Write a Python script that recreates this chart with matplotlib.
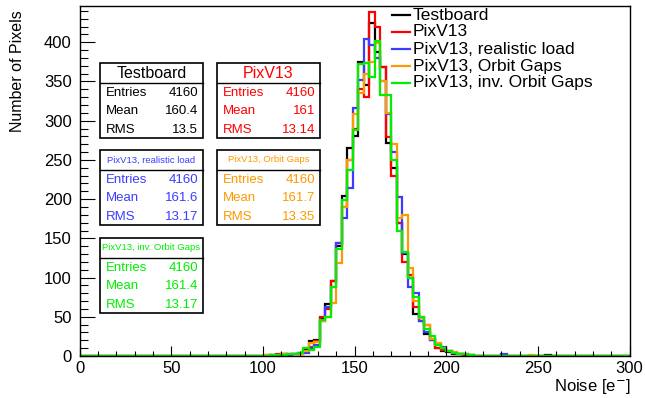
import numpy as np
import matplotlib
matplotlib.use("Agg")
import matplotlib.pyplot as plt
from matplotlib.patches import Rectangle
from matplotlib.lines import Line2D

plt.rcParams['font.family'] = ['Liberation Sans', 'DejaVu Sans']

# ---------------- data ----------------
bin_width = 3
bin_lefts = [98, 101, 104, 107, 110, 113, 116, 119, 122, 125, 128, 131, 134, 137,
             140, 143, 146, 149, 152, 155, 158, 161, 164, 167, 170, 173, 176, 179,
             182, 185, 188, 191, 194, 197, 200, 203, 206, 209, 212, 215]

testboard = [0, 0, 1, 0, 2, 1, 3, 4, 8, 19, 20, 48, 66, 95,
             140, 204, 265, 280, 375, 346, 425, 387, 368, 271, 240, 169, 130, 100,
             54, 45, 28, 20, 10, 7, 5, 3, 2, 1, 1, 0]
pixv13 = [0, 1, 0, 2, 1, 2, 3, 2, 5, 12, 19, 50, 60, 96,
          144, 190, 250, 290, 340, 330, 439, 420, 368, 279, 230, 170, 120, 103,
          62, 50, 40, 22, 10, 8, 6, 4, 2, 1, 0, 0]
realistic = [0, 0, 1, 1, 2, 1, 2, 3, 4, 10, 14, 45, 62, 88,
             144, 176, 214, 316, 352, 404, 396, 380, 350, 308, 260, 203, 131, 88,
             80, 45, 30, 20, 15, 12, 6, 4, 3, 2, 1, 0]
orbit = [0, 1, 0, 1, 2, 2, 3, 3, 6, 17, 18, 45, 50, 67,
         118, 190, 250, 308, 335, 360, 375, 399, 350, 310, 270, 176, 180, 112,
         70, 48, 40, 22, 16, 10, 7, 5, 3, 2, 1, 0]
inv_orbit = [0, 0, 1, 1, 1, 2, 3, 4, 10, 8, 12, 46, 50, 88,
             136, 199, 237, 288, 372, 373, 356, 402, 333, 333, 250, 160, 133, 100,
             75, 50, 35, 25, 14, 10, 6, 4, 3, 2, 1, 0]
# isolated far-tail entries (bin left edge, count)
tails = {
    "Testboard": [(254, 1)],
    "PixV13": [],
    "PixV13, realistic load": [(230, 2)],
    "PixV13, Orbit Gaps": [(245, 1)],
    "PixV13, inv. Orbit Gaps": [],
}

names = ["Testboard", "PixV13", "PixV13, realistic load", "PixV13, Orbit Gaps",
         "PixV13, inv. Orbit Gaps"]
series = [testboard, pixv13, realistic, orbit, inv_orbit]
colors = ["#000000", "#ff0000", "#3c3cff", "#ff9900", "#00ee00"]

stat_titles = names
entries = ["4160", "4160", "4160", "4160", "4160"]
means = ["160.4", "161", "161.6", "161.7", "161.4"]
rmss = ["13.5", "13.14", "13.17", "13.35", "13.17"]

x_ticks = [0, 50, 100, 150, 200, 250, 300]
y_ticks = [0, 50, 100, 150, 200, 250, 300, 350, 400]

# ---------------- figure ----------------
W, H = 645, 398
fig = plt.figure(figsize=(W / 100, H / 100), dpi=100)

def fx(px):
    return px / W

def fy(py):
    return 1 - py / H

ax_l, ax_r, ax_t, ax_b = 79.5, 629.5, 6, 356
ax = fig.add_axes([fx(ax_l), fy(ax_b), fx(ax_r) - fx(ax_l), fy(ax_t) - fy(ax_b)])

edges = np.arange(-1, 303, bin_width)
for name, vals, col in zip(names, series, colors):
    full = np.zeros(len(edges) - 1)
    for left, v in zip(bin_lefts, vals):
        full[(left - edges[0]) // bin_width] = v
    for left, v in tails[name]:
        full[(left - edges[0]) // bin_width] = v
    ax.stairs(full, edges, color=col, lw=1.6, baseline=0)

ax.set_xlim(0, 300)
ax.set_ylim(0, 1.05 * max(testboard))
ax.set_xticks(x_ticks)
ax.set_xticks(np.arange(0, 301, 10), minor=True)
ax.set_yticks(y_ticks)
ax.set_yticks(np.arange(0, 441, 10), minor=True)
ax.tick_params(axis='both', which='both', direction='in', labelsize=12, color='black')
ax.tick_params(axis='x', which='major', length=7.5, width=0.8, pad=3.5)
ax.tick_params(axis='x', which='minor', length=3.8, width=0.8)
ax.tick_params(axis='y', which='major', length=11, width=0.8, pad=5.5)
ax.tick_params(axis='y', which='minor', length=5.5, width=0.8)
for s in ax.spines.values():
    s.set_linewidth(1.0)

fig.text(fx(18), fy(10), "Number of Pixels", rotation=90, ha='center', va='top',
         fontsize=11.5)
fig.text(fx(631), fy(387), "Noise [e$^{-}$]", ha='right', va='center', fontsize=12)

# ---------------- legend ----------------
leg_y = [15, 32, 49, 66, 82.5]
for name, col, yy in zip(names, colors, leg_y):
    fig.add_artist(Line2D([fx(392), fx(410)], [fy(yy), fy(yy)], color=col, lw=1.6))
    fig.text(fx(413), fy(yy), name, ha='left', va='center', fontsize=12.5)

# ---------------- stat boxes ----------------
boxes = [(100, 63), (217, 63), (100, 150), (217, 150), (100, 238)]
bw, bh, sep = 103, 75, 19.5
title_sizes = [11.5, 11.5, 6.8, 6.8, 6.8]
for i, (bx, by) in enumerate(boxes):
    col = colors[i]
    fig.add_artist(Rectangle((fx(bx), fy(by + bh)), fx(bw), bh / H, fill=True,
                             facecolor='white', edgecolor='black', lw=1.2,
                             transform=fig.transFigure))
    fig.add_artist(Line2D([fx(bx), fx(bx + bw)], [fy(by + sep), fy(by + sep)],
                          color='black', lw=1.0))
    fig.text(fx(bx + bw / 2), fy(by + 10), stat_titles[i], ha='center', va='center',
             fontsize=title_sizes[i], color=col)
    rows = [("Entries", entries[i]), ("Mean", means[i]), ("RMS", rmss[i])]
    for j, (lab, val) in enumerate(rows):
        yy = by + 30 + 18.3 * j
        fig.text(fx(bx + 6), fy(yy), lab, ha='left', va='center', fontsize=9.5, color=col)
        fig.text(fx(bx + bw - 5), fy(yy), val, ha='right', va='center', fontsize=9.5,
                 color=col)

fig.savefig("out.png", dpi=100)
